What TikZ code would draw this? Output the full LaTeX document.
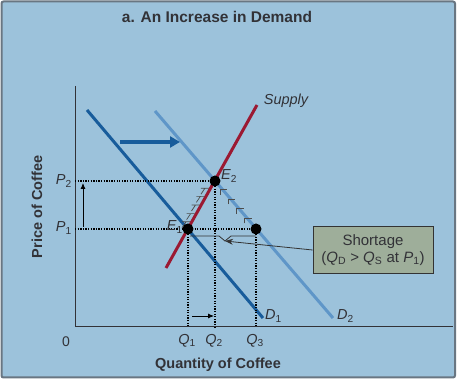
\documentclass[tikz,border=0pt]{standalone}
\usepackage{fontspec}
\setmainfont{Liberation Sans}
\usetikzlibrary{arrows.meta,calc}
\definecolor{bg}{RGB}{156,194,219}
\definecolor{framegray}{RGB}{105,118,130}
\definecolor{supred}{RGB}{155,25,50}
\definecolor{done}{RGB}{24,92,155}
\definecolor{dtwo}{RGB}{95,150,200}
\definecolor{boxfill}{RGB}{158,174,154}
\definecolor{txt}{RGB}{50,50,55}
\begin{document}
\begin{tikzpicture}[x=1pt,y=-1pt,
  lbl/.style={text=txt,font=\fontsize{14.5}{16}\selectfont\itshape,inner sep=1pt},
  axlbl/.style={text=txt,font=\fontsize{14.5}{16}\selectfont\bfseries,inner sep=0pt},
  dot/.style={circle,fill=black,minimum size=11pt,inner sep=0pt},
  dotted line/.style={line width=1.3pt,dash pattern=on 1.3pt off 1.3pt,black},
  curve/.style={line width=3pt},
  thinarrow/.style={line width=0.8pt,-{Latex[length=6pt,width=5pt]}},
  mark line/.style={line width=0.7pt,black!70}]
\path[use as bounding box] (0,0) rectangle (459,379);
\draw[fill=bg,draw=framegray,line width=2pt,rounded corners=2pt] (1.5,1.5) rectangle (455,377.5);
\node[axlbl,font=\fontsize{15.5}{17}\selectfont\bfseries] (title) at (217,17) {a. An Increase in Demand};
% axes
\coordinate (O) at (75,327);
\coordinate (ytop) at (75,86);
\coordinate (xend) at (453,327);
\draw[line width=1pt,txt] (ytop) -- (O) -- (xend);
\node[text=txt,font=\fontsize{14}{16}\selectfont] (zero) at (66,342) {0};
\node[axlbl,rotate=90] (ylab) at (37,207) {Price of Coffee};
\node[axlbl] (xlab) at (218,365) {Quantity of Coffee};
% points
\coordinate (E1c) at (188,229);
\coordinate (E2c) at (215,181);
\coordinate (Q3c) at (256,229);
% curves
\coordinate (d1a) at (87,110);
\coordinate (d1b) at (263,318);
\coordinate (d2a) at (155,111);
\coordinate (d2b) at (333,318);
\coordinate (sa) at (166,268);
\coordinate (sb) at (257,105);
\draw[curve,dtwo] (d2a) -- (d2b);
\draw[curve,done] (d1a) -- (d1b);
% dotted guides
\coordinate (P2c) at (75,181);
\coordinate (P1c) at (75,229);
\draw[dotted line] (P2c) -- (E2c);
\draw[dotted line] (P1c) -- (Q3c);
\draw[dotted line] (E1c) -- (E1c |- O);
\draw[dotted line] (E2c) -- (E2c |- O);
\draw[dotted line] (Q3c) -- (Q3c |- O);
\draw[curve,supred] (sa) -- (sb);
% hatch marks along supply
\foreach \t in {0.15,0.32,0.5,0.68,0.85}{
  \draw[mark line] ($(E1c)!\t!(E2c)$) ++(-2,0) -- ++(-8,0) ++(4,0) -- ++(-4,6);
}
% hatch marks along D2
\foreach \t in {0.2,0.4,0.6,0.8}{
  \draw[mark line] ($(E2c)!\t!(Q3c)$) ++(-3,4) -- ++(0,-5) -- ++(7,0);
}
% dots
\node[dot] (E1) at (E1c) {};
\node[dot] (E2) at (E2c) {};
\node[dot] (Q3p) at (Q3c) {};
\node[lbl,anchor=east] (E1l) at (184,227) {E\textsubscript{\upshape 1}};
\node[lbl,anchor=west] (E2l) at (220,176) {E\textsubscript{\upshape 2}};
% labels
\node[lbl] (supl) at (286,101) {Supply};
\node[lbl,anchor=west] (d1l) at (264,316) {D\textsubscript{\upshape 1}};
\node[lbl,anchor=west] (d2l) at (336,316) {D\textsubscript{\upshape 2}};
\node[lbl,anchor=east] (p2l) at (73,181) {P\textsubscript{\upshape 2}};
\node[lbl,anchor=east] (p1l) at (73,228) {P\textsubscript{\upshape 1}};
\node[lbl] (q1l) at (187,341) {Q\textsubscript{\upshape 1}};
\node[lbl] (q2l) at (214,341) {Q\textsubscript{\upshape 2}};
\node[lbl] (q3l) at (255,341) {Q\textsubscript{\upshape 3}};
% movement arrows
\coordinate (pa1) at (83,227);
\coordinate (pa2) at (83,183);
\draw[thinarrow] (pa1) -- (pa2);
\coordinate (qa1) at (192,316);
\coordinate (qa2) at (214,316);
\draw[thinarrow] (qa1) -- (qa2);
\coordinate (sh1) at (120,142);
\coordinate (sh2) at (180,142);
\draw[line width=3.5pt,done,-{Triangle[length=10pt,width=11pt]}] (sh1) -- (sh2);
% shortage box
\node[draw=black!80,fill=boxfill,line width=0.8pt,minimum width=120pt,minimum height=47pt,align=center,text=txt,font=\fontsize{15}{17}\selectfont,inner sep=2pt] (sh) at (373,250)
  {Shortage\\(\textit{Q}\textsubscript{D} > \textit{Q}\textsubscript{S} at \textit{P}\textsubscript{1})};
\coordinate (b1) at (190,236);
\coordinate (b2) at (219,236);
\coordinate (tip) at (225,241);
\coordinate (b3) at (231,236);
\coordinate (b4) at (256,236);
\draw[line width=0.8pt,black!80] (b1) -- (b2) -- (tip) -- (b3) -- (b4);
\draw[line width=0.8pt,black!80,-{Stealth[length=8pt,width=6pt]}] (sh.west) -- (tip);
\end{tikzpicture}
\end{document}
